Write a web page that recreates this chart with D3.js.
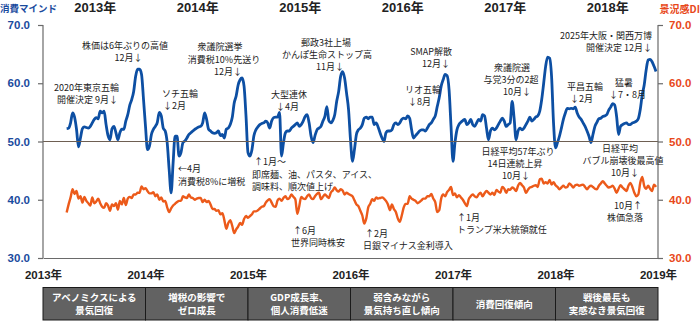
<!DOCTYPE html>
<html><head><meta charset="utf-8">
<script src="https://cdn.jsdelivr.net/npm/d3@7"></script>
<style>
html,body{margin:0;padding:0;background:#fff;}
svg{display:block;}
</style></head>
<body>
<svg id="chart" width="700" height="321"></svg>
<script>
// ---------------- DATA ----------------
const years = [2013, 2014, 2015, 2016, 2017, 2018];
const startWeek = [12, 0, 0, 0, 0, 0]; // first week index with data in each year
const yTicks = [30, 40, 50, 60, 70];
const xTicks = [2013, 2014, 2015, 2016, 2017, 2018, 2019];

// 消費マインド (weekly)
const blue2013 = [52.2,52.3,53.2,54.9,54.2,52.1,49.1,50.6,52.2,52.5,52.4,52.3,52.6,53.2,53.8,54.1,53.9,55.2,54.9,55.2,52.9,51.0,50.3,52.2,52.6,51.5,50.3,51.5,52.1,52.1,53.5,54.6,56.2,57.2,58.6,61.2,62.4,62.4,61.5,57.2];
const blue2014 = [52.6,48.6,49.2,51.2,52.1,52.6,53.3,55.0,54.4,52.3,51.8,49.8,45.2,41.2,46.3,50.9,50.9,47.5,48.1,49.8,50.1,50.6,51.2,51.5,51.8,52.1,52.3,52.5,52.6,53.2,54.9,53.8,52.1,51.8,51.5,51.4,51.5,51.8,51.0,51.2,50.6,52.1,52.3,52.9,54.1,56.6,57.8,59.7,60.6,60.9,59.5,54.3];
const blue2015 = [48.1,47.5,48.6,51.0,52.0,52.5,52.9,53.1,53.2,53.5,53.2,52.3,53.5,54.1,54.2,54.2,55.0,47.5,49.8,51.5,51.8,51.8,52.3,52.6,52.9,53.2,52.6,52.9,53.5,54.3,54.6,53.2,50.9,49.8,51.0,52.0,52.3,52.6,53.5,54.3,56.0,53.6,53.2,53.6,54.6,56.9,58.6,61.2,62.0,60.9,58.3,55.5];
const blue2016 = [50.3,46.6,48.6,51.2,52.0,52.3,52.9,54.0,54.2,53.9,54.2,54.2,52.9,53.2,52.5,51.5,50.6,50.0,51.5,51.8,51.8,52.0,52.9,53.2,52.9,53.2,53.8,54.0,53.9,54.4,54.0,52.0,50.6,51.0,51.4,51.8,52.0,52.0,51.8,52.3,52.9,53.2,53.8,54.4,56.0,57.5,59.5,60.6,61.5,61.3,58.9,52.6];
const blue2017 = [46.6,49.8,52.0,52.9,53.3,53.6,53.8,52.9,53.2,53.8,52.9,52.6,53.2,53.8,53.5,54.6,54.4,52.3,50.3,51.8,52.3,52.0,52.3,52.9,53.5,54.0,53.5,52.6,52.9,53.2,56.9,54.0,50.3,51.8,52.3,52.0,52.3,52.9,53.5,54.2,53.5,53.8,54.2,54.4,55.2,57.2,60.0,62.9,64.5,64.3,61.2,53.2];
const blue2018 = [48.9,49.8,50.9,52.3,53.8,54.9,55.7,55.6,55.7,55.6,55.9,54.9,54.2,53.8,53.2,52.6,51.8,50.9,49.8,51.2,52.6,53.3,53.9,54.0,54.3,54.4,54.6,55.4,55.9,56.5,56.3,54.3,51.2,52.6,52.9,53.1,53.2,52.9,52.9,53.2,53.3,53.5,53.9,55.5,58.0,59.7,62.3,64.0,64.1,63.7,62.9,62.0];

// 景況感DI (weekly)
const orange2013 = [37.8,39.2,40.4,41.8,41.0,41.5,40.2,40.6,39.5,40.5,39.8,39.4,39.0,40.4,39.4,39.7,40.2,39.4,38.8,38.6,39.4,39.0,38.1,39.2,38.9,39.4,38.3,39.8,39.2,40.3,39.1,40.2,40.5,40.3,40.9,40.9,41.2,41.2,42.3,41.8];
const orange2014 = [42.0,41.5,41.1,41.1,41.3,40.6,40.9,40.0,40.4,39.7,39.8,38.7,37.9,38.5,39.0,39.3,39.6,39.8,39.8,40.6,40.4,40.3,40.9,40.4,40.3,40.0,40.2,40.3,40.3,39.6,40.0,39.6,39.8,39.2,38.4,38.4,38.1,38.2,37.5,37.7,36.5,35.0,36.0,36.5,35.5,34.3,34.9,35.4,36.0,35.7,36.7,37.2];
const orange2015 = [36.9,37.2,37.5,38.0,38.0,38.2,38.5,38.8,38.9,39.5,39.9,40.1,39.5,38.9,38.8,39.9,40.2,39.8,40.3,40.6,40.1,40.3,40.9,40.5,40.1,37.6,38.9,40.5,40.2,40.1,40.6,40.9,40.3,40.1,40.6,41.0,41.2,40.1,40.5,40.9,40.6,40.3,41.2,41.6,42.1,41.6,41.4,41.8,41.6,40.9,41.2,41.0];
const orange2016 = [40.8,40.6,39.9,39.2,38.9,38.1,37.3,35.9,36.8,38.7,39.3,40.1,39.8,40.4,40.2,40.3,40.4,40.2,39.8,39.2,38.2,39.2,38.4,37.9,36.8,36.2,37.3,38.7,39.3,39.3,40.6,40.2,40.0,39.8,39.4,39.6,39.9,40.2,40.2,40.6,40.6,41.0,40.2,39.6,37.9,38.2,40.2,40.9,40.6,41.3,41.7,42.2];
const orange2017 = [40.8,41.1,40.4,40.8,40.4,40.0,39.4,38.9,40.1,40.6,40.9,40.6,40.4,40.9,41.2,40.6,41.1,41.5,41.2,40.9,41.2,40.8,41.7,41.4,41.2,42.2,41.9,41.2,41.8,41.7,42.1,41.9,41.5,42.4,42.9,42.5,42.1,41.2,41.7,42.1,42.2,42.4,42.5,42.2,43.5,43.6,42.8,43.0,42.8,43.4,42.6,43.0];
const orange2018 = [42.5,42.2,41.8,42.1,42.4,42.1,42.2,42.8,42.5,42.1,42.5,42.6,42.4,42.5,42.6,42.2,41.8,42.2,42.4,42.2,41.9,41.8,42.4,42.8,43.2,42.8,42.4,42.1,42.2,42.4,41.9,41.2,41.9,42.5,42.1,41.8,41.5,42.4,42.9,42.2,41.2,40.6,40.9,42.9,43.9,42.4,41.9,42.4,41.9,41.5,42.6,42.2];

const topYearLabels = ["2013年", "2014年", "2015年", "2016年", "2017年", "2018年"];
const phaseLabels = [
  ["アベノミクスによる", "景気回復"],
  ["増税の影響で", "ゼロ成長"],
  ["GDP成長率、", "個人消費低迷"],
  ["弱含みながら", "景気持ち直し傾向"],
  ["消費回復傾向"],
  ["戦後最長も", "実感なき景気回復"]
];

// annotation texts
const annotationTexts = [
  ["株価は6年ぶりの高値", "12月↓"],
  ["2020年東京五輪", "開催決定 9月↓"],
  ["ソチ五輪", "↓2月"],
  ["←4月", "消費税8%に増税"],
  ["衆議院選挙", "消費税10%先送り", "12月↓"],
  ["↑1月～", "即席麺、油、パスタ、アイス、", "調味料、順次値上げ"],
  ["大型連休", "↓4月"],
  ["郵政3社上場", "かんぽ生命ストップ高", "11月↓"],
  ["リオ五輪", "↓8月"],
  ["SMAP解散", "12月↓"],
  ["衆議院選", "与党3分の2超", "10月↓"],
  ["2025年大阪・関西万博", "開催決定 12月↓"],
  ["平昌五輪", "↓2月"],
  ["猛暑", "↓7・8月"],
  ["日経平均57年ぶり", "14日連続上昇", "10月↓"],
  ["日経平均", "バブル崩壊後最高値", "10月↓"],
  ["↑6月", "世界同時株安"],
  ["↑2月", "日銀マイナス金利導入"],
  ["↑1月", "トランプ米大統領就任"],
  ["10月↑", "株価急落"]
];

// ---------------- LAYOUT ----------------
// per annotation: anchor, and [x, yCenter] for each line (pixels)
const annotationLayout = [
  {a:"middle", p:[[125,45.5],[128.5,57.5]]},
  {a:"end",    p:[[119,87.5],[118,99.5]]},
  {a:"start",  p:[[162,93.5],[163,105.5]]},
  {a:"start",  p:[[178,168.5],[178,181]]},
  {a:"middle", p:[[220,46.5],[224,59],[228,71.5]]},
  {a:"start",  p:[[254,161.5],[252,174],[252,186.5]]},
  {a:"start",  p:[[271,94.5],[276,106.5]]},
  {a:"middle", p:[[326,42.5],[327,54.5],[330,66.5]]},
  {a:"start",  p:[[405,89.5],[408,101.5]]},
  {a:"end",    p:[[452,51.5],[450,63.5]]},
  {a:"middle", p:[[512,67.5],[511,79.5],[517,91.5]]},
  {a:"end",    p:[[652,35],[652,47]]},
  {a:"start",  p:[[567,86],[570,98]]},
  {a:"start",  p:[[615,82.5],[609,94.5]]},
  {a:"middle", p:[[518,151.5],[515,163.5],[516,175.5]]},
  {a:"middle", p:[[620,148],[623,160],[625,172]]},
  {a:"start",  p:[[293,230.5],[291,242.5]]},
  {a:"start",  p:[[365,233.5],[363,245.5]]},
  {a:"start",  p:[[457,217],[457,229]]},
  {a:"middle", p:[[628,205.5],[625,217.5]]}
];

const M = {left: 43, right: 658, top: 25, bottom: 258};
const BLUE = "#0d4fa3", ORANGE = "#ec5a1a";
const BLUE_TXT = "#1a4b9e", ORANGE_TXT = "#e8481a";
const NUM_FONT = "'Liberation Sans Narrow','Liberation Sans','Noto Sans CJK JP',sans-serif";
const JP_FONT = "'Noto Sans CJK JP','Noto Sans',sans-serif";

const svg = d3.select("#chart");

const x = d3.scaleLinear().domain([2013, 2019]).range([M.left, M.right]);
const y = d3.scaleLinear().domain([30, 70]).range([M.bottom, M.top]);

function buildSeries(arrs) {
  const pts = [];
  arrs.forEach((arr, k) => {
    arr.forEach((v, i) => pts.push({t: years[k] + (startWeek[k] + i) / 52, v}));
  });
  return pts;
}
const blueSeries = buildSeries([blue2013, blue2014, blue2015, blue2016, blue2017, blue2018]);
const orangeSeries = buildSeries([orange2013, orange2014, orange2015, orange2016, orange2017, orange2018]);

const line = d3.line().x(d => x(d.t)).y(d => y(d.v)).curve(d3.curveMonotoneX);

// series
svg.append("path").datum(orangeSeries).attr("d", line)
  .attr("fill", "none").attr("stroke", ORANGE).attr("stroke-width", 2.4).attr("stroke-linejoin", "round");
svg.append("path").datum(blueSeries).attr("d", line)
  .attr("fill", "none").attr("stroke", BLUE).attr("stroke-width", 2.8).attr("stroke-linejoin", "round");

// 50 reference line
svg.append("line")
  .attr("x1", x(2013)).attr("x2", x(2019)).attr("y1", y(50)).attr("y2", y(50))
  .attr("stroke", "#6e5f52").attr("stroke-width", 1.2);

// axes
const leftAxis = svg.append("g").attr("transform", `translate(${M.left},0)`)
  .call(d3.axisLeft(y).tickValues(yTicks).tickFormat(d3.format(".1f")).tickSize(5).tickPadding(8));
const rightAxis = svg.append("g").attr("transform", `translate(${M.right},0)`)
  .call(d3.axisRight(y).tickValues(yTicks).tickFormat(d3.format(".1f")).tickSize(5).tickPadding(6));
const bottomAxis = svg.append("g").attr("transform", `translate(0,${M.bottom})`)
  .call(d3.axisBottom(x).tickValues(xTicks).tickSize(0).tickPadding(13).tickFormat(d => d + "年"));

[leftAxis, rightAxis, bottomAxis].forEach(g => {
  g.select(".domain").attr("stroke", "#6a6a6a").attr("stroke-width", 1.2);
  g.selectAll(".tick line").attr("stroke", "#6a6a6a").attr("stroke-width", 1.2);
  g.selectAll("text").attr("font-family", NUM_FONT).attr("font-weight", "bold");
});
leftAxis.selectAll("text").attr("fill", BLUE_TXT).attr("font-size", 11.5);
rightAxis.selectAll("text").attr("fill", ORANGE_TXT).attr("font-size", 11.5);
bottomAxis.selectAll("text").attr("fill", "#222").attr("font-size", 11.5);
leftAxis.select(".domain").attr("d", `M-0,${M.top}V${M.bottom}`);
rightAxis.select(".domain").attr("d", `M0,${M.top}V${M.bottom}`);

// axis titles
svg.append("text").text("消費マインド").attr("x", 0).attr("y", 8)
  .attr("dominant-baseline", "central").attr("font-family", JP_FONT).attr("font-weight", "bold")
  .attr("font-size", 9.5).attr("fill", BLUE_TXT);
svg.append("text").text("景況感DI").attr("x", 700).attr("y", 8).attr("text-anchor", "end")
  .attr("dominant-baseline", "central").attr("font-family", JP_FONT).attr("font-weight", "bold")
  .attr("font-size", 10).attr("fill", ORANGE_TXT);

// top year labels
svg.selectAll(".topyear").data(topYearLabels).join("text")
  .attr("x", (d, i) => x(years[i] + 0.5) + 1).attr("y", 7)
  .attr("text-anchor", "middle").attr("dominant-baseline", "central")
  .attr("font-family", NUM_FONT).attr("font-weight", "bold").attr("font-size", 13).attr("fill", "#222")
  .text(d => d);

// annotations
const annG = svg.append("g").attr("font-family", JP_FONT).attr("font-size", 9).attr("fill", "#222");
annotationTexts.forEach((lines, k) => {
  const L = annotationLayout[k];
  lines.forEach((t, j) => {
    annG.append("text").attr("x", L.p[j][0]).attr("y", L.p[j][1])
      .attr("text-anchor", L.a).attr("dominant-baseline", "central").text(t);
  });
});

// bottom phase boxes
const boxTop = 287.5, boxBottom = 320;
const boxes = svg.append("g");
phaseLabels.forEach((lines, k) => {
  const x0 = x(years[k]), x1 = x(years[k] + 1);
  boxes.append("rect").attr("x", x0).attr("y", boxTop).attr("width", x1 - x0).attr("height", boxBottom - boxTop)
    .attr("fill", "#626262").attr("stroke", "#1a1a1a").attr("stroke-width", 1);
  const cy = (boxTop + boxBottom) / 2;
  lines.forEach((t, j) => {
    const off = lines.length === 1 ? 0 : (j === 0 ? -6.5 : 6.5);
    boxes.append("text").attr("x", (x0 + x1) / 2).attr("y", cy + off)
      .attr("text-anchor", "middle").attr("dominant-baseline", "central")
      .attr("font-family", JP_FONT).attr("font-weight", "bold").attr("font-size", 9.5).attr("fill", "#fff")
      .text(t);
  });
});
</script>
</body></html>
